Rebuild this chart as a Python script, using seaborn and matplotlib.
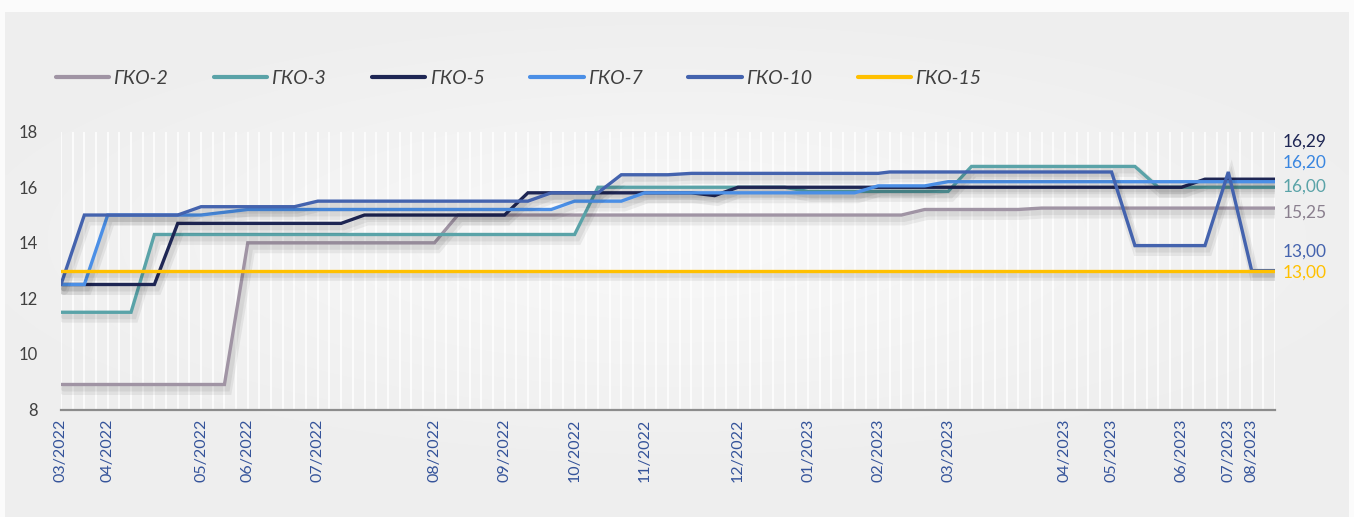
import numpy as np
import pandas as pd
import matplotlib
matplotlib.use("Agg")
import matplotlib.pyplot as plt
import matplotlib.patheffects as pe
from matplotlib.lines import Line2D
from matplotlib.font_manager import FontProperties
import seaborn as sns

N = None
series_names = ["ГКО-2", "ГКО-3", "ГКО-5", "ГКО-7", "ГКО-10", "ГКО-15"]

gko2 = [8.9, 8.9, 8.9, 8.9, 8.9, 8.9, 8.9, 8.9, 8.9, 8.9, 8.9, 8.9, 8.9, 8.9, 8.9,
        N,
        14.0, 14.0, 14.0, 14.0, 14.0, 14.0, 14.0, 14.0, 14.0, 14.0, 14.0, 14.0, 14.0, 14.0, 14.0, 14.0, 14.0,
        N,
        15.0, 15.0, 15.0, 15.0, 15.0, 15.0, 15.0, 15.0, 15.0, 15.0, 15.0, 15.0, 15.0, 15.0, 15.0, 15.0, 15.0, 15.0, 15.0, 15.0,
        15.0, 15.0, 15.0, 15.0, 15.0, 15.0, 15.0, 15.0, 15.0, 15.0, 15.0, 15.0, 15.0, 15.0, 15.0, 15.0, 15.0, 15.0, 15.0,
        N,
        15.2, 15.2, 15.2, 15.2, 15.2, 15.2, 15.2, 15.2, 15.2,
        N,
        15.25, 15.25, 15.25, 15.25, 15.25, 15.25, 15.25, 15.25, 15.25, 15.25, 15.25, 15.25, 15.25, 15.25, 15.25, 15.25, 15.25, 15.25, 15.25, 15.25, 15.25]

gko3 = [11.5, 11.5, 11.5, 11.5, 11.5, 11.5, 11.5,
        N,
        14.3, 14.3, 14.3, 14.3, 14.3, 14.3, 14.3, 14.3, 14.3, 14.3, 14.3, 14.3, 14.3, 14.3, 14.3, 14.3, 14.3, 14.3,
        14.3, 14.3, 14.3, 14.3, 14.3, 14.3, 14.3, 14.3, 14.3, 14.3, 14.3, 14.3, 14.3, 14.3, 14.3, 14.3, 14.3,
        14.3, 14.3,
        N,
        16.0, 16.0, 16.0, 16.0, 16.0, 16.0, 16.0, 16.0, 16.0, 16.0, 16.0, 16.0, 16.0, 16.0, 16.0, 16.0, 16.0,
        N,
        15.85, 15.85, 15.85, 15.85, 15.85, 15.85, 15.85, 15.85, 15.85, 15.85, 15.85, 15.85, 15.85,
        N,
        16.75, 16.75, 16.75, 16.75, 16.75, 16.75, 16.75, 16.75, 16.75, 16.75, 16.75, 16.75, 16.75, 16.75, 16.75,
        N,
        16.0, 16.0, 16.0, 16.0, 16.0, 16.0, 16.0, 16.0, 16.0, 16.0, 16.0]

gko5 = [12.5, 12.5, 12.5, 12.5, 12.5, 12.5, 12.5, 12.5, 12.5,
        N,
        14.7, 14.7, 14.7, 14.7, 14.7, 14.7, 14.7, 14.7, 14.7, 14.7, 14.7, 14.7, 14.7, 14.7, 14.7,
        N,
        15.0, 15.0, 15.0, 15.0, 15.0, 15.0, 15.0, 15.0, 15.0, 15.0, 15.0, 15.0, 15.0,
        N,
        15.8, 15.8, 15.8, 15.8, 15.8, 15.8, 15.8, 15.8, 15.8, 15.8, 15.8, 15.8, 15.8, 15.8, 15.8,
        N, 15.7, N,
        16.0, 16.0, 16.0, 16.0, 16.0, 16.0, 16.0, 16.0, 16.0, 16.0, 16.0, 16.0, 16.0, 16.0, 16.0, 16.0, 16.0, 16.0, 16.0, 16.0,
        16.0, 16.0, 16.0, 16.0, 16.0, 16.0, 16.0, 16.0, 16.0, 16.0, 16.0, 16.0, 16.0, 16.0, 16.0, 16.0, 16.0, 16.0, 16.0,
        N,
        16.29, 16.29, 16.29, 16.29, 16.29, 16.29, 16.29]

gko7 = [12.5, 12.5, 12.5,
        N,
        15.0, 15.0, 15.0, 15.0, 15.0, 15.0, 15.0, 15.0, 15.0,
        N, N, N,
        15.2, 15.2, 15.2, 15.2, 15.2, 15.2, 15.2, 15.2, 15.2, 15.2, 15.2, 15.2, 15.2, 15.2,
        15.2, 15.2, 15.2, 15.2, 15.2, 15.2, 15.2, 15.2, 15.2, 15.2, 15.2, 15.2, 15.2,
        N,
        15.5, 15.5, 15.5, 15.5, 15.5,
        N,
        15.8, 15.8, 15.8, 15.8, 15.8, 15.8, 15.8, 15.8, 15.8, 15.8, 15.8, 15.8, 15.8, 15.8, 15.8, 15.8, 15.8, 15.8, 15.8,
        N,
        16.05, 16.05, 16.05, 16.05, 16.05,
        N,
        16.2, 16.2, 16.2, 16.2, 16.2, 16.2, 16.2, 16.2, 16.2, 16.2, 16.2, 16.2, 16.2, 16.2, 16.2,
        16.2, 16.2, 16.2, 16.2, 16.2, 16.2, 16.2, 16.2, 16.2, 16.2, 16.2, 16.2, 16.2, 16.2]

gko10 = [12.5,
         N,
         15.0, 15.0, 15.0, 15.0, 15.0, 15.0, 15.0, 15.0, 15.0,
         N,
         15.3, 15.3, 15.3, 15.3, 15.3, 15.3, 15.3, 15.3, 15.3,
         N,
         15.5, 15.5, 15.5, 15.5, 15.5, 15.5, 15.5, 15.5, 15.5, 15.5, 15.5, 15.5, 15.5, 15.5, 15.5, 15.5, 15.5, 15.5, 15.5,
         N,
         15.8, 15.8, 15.8, 15.8, 15.8,
         N,
         16.45, 16.45, 16.45, 16.45, 16.45,
         N,
         16.5, 16.5, 16.5, 16.5, 16.5, 16.5, 16.5, 16.5, 16.5, 16.5, 16.5, 16.5, 16.5, 16.5, 16.5, 16.5, 16.5,
         16.55, 16.55, 16.55, 16.55, 16.55, 16.55, 16.55, 16.55, 16.55, 16.55,
         16.55, 16.55, 16.55, 16.55, 16.55, 16.55, 16.55, 16.55, 16.55, 16.55,
         N,
         13.9, 13.9, 13.9, 13.9, 13.9, 13.9, 13.9,
         N, 16.55, N,
         13.0, 13.0, 13.0]

gko15 = [13.0] * 105

x_labels = {0: "03/2022", 4: "04/2022", 12: "05/2022", 16: "06/2022", 22: "07/2022",
            32: "08/2022", 38: "09/2022", 44: "10/2022", 50: "11/2022", 58: "12/2022",
            64: "01/2023", 70: "02/2023", 76: "03/2023", 86: "04/2023", 90: "05/2023",
            96: "06/2023", 100: "07/2023", 102: "08/2023"}

end_labels = ["16,29", "16,20", "16,00", "15,25", "13,00", "13,00"]

colors = {"ГКО-2": "#a094a4", "ГКО-3": "#5aa3a8", "ГКО-5": "#1e2654",
          "ГКО-7": "#4b8fe6", "ГКО-10": "#4463ae", "ГКО-15": "#ffc000"}

values = [gko2, gko3, gko5, gko7, gko10, gko15]
rows = []
for name, vals in zip(series_names, values):
    for i, v in enumerate(vals):
        rows.append({"idx": i, "series": name, "value": np.nan if v is None else v})
df = pd.DataFrame(rows).dropna()
n_cat = len(gko15)

sns.set_style("white")
plt.rcParams["font.family"] = ["Lato", "DejaVu Sans"]

W, H = 1354, 517
fig = plt.figure(figsize=(W / 100, H / 100), dpi=100)
fig.patch.set_facecolor("#fbfbfb")

# soft radial background panel
bg = fig.add_axes([5 / W, 0, (W - 10) / W, (H - 12) / H], zorder=0)
gx, gy = np.meshgrid(np.linspace(-1, 1, 300), np.linspace(-1, 1, 120))
rr = np.clip(np.sqrt((gx * 0.9) ** 2 + ((gy + 0.1) * 1.1) ** 2), 0, 1)
shade = 0.975 - 0.04 * rr
bg.imshow(np.dstack([shade, shade, shade]), aspect="auto", extent=(0, 1, 0, 1),
          interpolation="bilinear")
bg.set_axis_off()

ax = fig.add_axes([61 / W, 1 - 409.5 / H, (1275 - 61) / W, (409.5 - 131.7) / H], zorder=2)
ax.set_facecolor("none")

shadow = [pe.SimpleLineShadow(offset=(2, -4), shadow_color="black", alpha=0.06, linewidth=7),
          pe.SimpleLineShadow(offset=(2, -3), shadow_color="black", alpha=0.06, linewidth=4),
          pe.Normal()]

sns.lineplot(data=df, x="idx", y="value", hue="series", hue_order=series_names,
             palette=colors, linewidth=2.4, legend=False, ax=ax, estimator=None, sort=True)
for ln in ax.get_lines():
    ln.set_path_effects(shadow)
    ln.set_solid_joinstyle("miter")
    ln.set_zorder(3)

ax.set_xlim(0, n_cat - 1)
ax.set_ylim(8, 18)
ax.set_yticks([8, 10, 12, 14, 16, 18])
ax.tick_params(axis="y", length=0, labelsize=12, labelcolor="#404040", pad=17)

major = list(range(0, n_cat, 2))
ax.set_xticks(major)
ax.set_xticklabels([x_labels.get(i, "") for i in major], rotation=90)
ax.set_xticks(list(range(1, n_cat, 2)), minor=True)
ax.tick_params(axis="x", which="major", direction="inout", length=9, width=1.3,
               color="#8c8c8c", labelsize=11.5, labelcolor="#34539a", pad=2)
ax.tick_params(axis="x", which="minor", direction="out", length=4, width=1.3, color="#8c8c8c")
ax.grid(False)
for xv in range(n_cat):
    ax.axvline(xv, color="white", lw=1.2, alpha=0.9, zorder=0.5)

for s in ["top", "right", "left"]:
    ax.spines[s].set_visible(False)
ax.spines["bottom"].set_color("#8c8c8c")
ax.spines["bottom"].set_linewidth(1.6)
ax.set_xlabel("")
ax.set_ylabel("")

label_y = [17.63, 16.87, 16.04, 15.1, 13.67, 12.91]
label_colors = ["#1e2654", "#3a86e0", "#5aa3a8", "#8a7f8e", "#4463ae", "#ffc000"]
for txt, yv, c in zip(end_labels, label_y, label_colors):
    ax.text(1.0066, yv, txt, transform=ax.get_yaxis_transform(), color=c,
            fontsize=12.5, va="center", ha="left")

handles = [Line2D([0], [0], color=colors[n], lw=3) for n in series_names]
fig.legend(handles, series_names, loc="center left", bbox_to_anchor=(38 / W, 1 - 78 / H),
           ncol=6, frameon=False, handlelength=2.75, handletextpad=0.22, columnspacing=2.35,
           prop=FontProperties(family=["Lato", "DejaVu Sans"], style="italic", size=14),
           labelcolor="#404040")

fig.savefig("out.png", dpi=100, facecolor=fig.get_facecolor())
